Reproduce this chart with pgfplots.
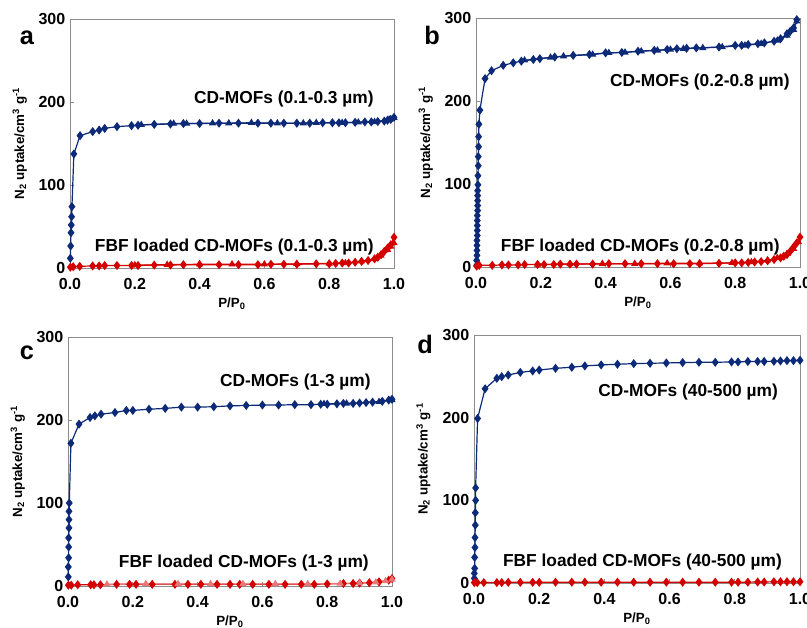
\documentclass[border=0pt]{standalone}
\usepackage{fontspec}
\setmainfont{Liberation Sans}
\usepackage{pgfplots}
\pgfplotsset{compat=1.18}
\definecolor{blu}{RGB}{12,42,120}
\definecolor{rd}{RGB}{212,0,0}
\definecolor{ltrd}{RGB}{232,120,120}

\pgfplotsset{
  panel/.style={
    scale only axis, width=243pt, height=186.75pt,
    xmin=0, xmax=1, ymin=0, ymax=300,
    xtick={0,0.2,0.4,0.6,0.8,1}, ytick={0,100,200,300},
    xtick pos=bottom, ytick pos=left,
    xticklabel style={yshift=-4.5pt, /pgf/number format/.cd, fixed, fixed zerofill, precision=1},
    tick label style={font=\fontsize{12}{14}\selectfont\bfseries},
    /pgf/number format/assume math mode=true,
    axis line style={gray!90},
    tick style={gray!90, line width=0.5pt},
    major tick length=3pt,
    clip=false,
    xlabel={P/P\textsubscript{0}},
    ylabel={N\textsubscript{2} uptake/cm\textsuperscript{3} g\textsuperscript{-1}},
    every axis x label/.style={at={(axis description cs:0.5,-0.142)}, anchor=center,
      font=\fontsize{10}{12}\selectfont\bfseries},
    every axis y label/.style={at={(axis description cs:-0.155,0.5)}, rotate=90, anchor=center,
      font=\fontsize{10}{12}\selectfont\bfseries},
  },
  ads/.style={line width=0.9pt, mark=diamond*, mark size=2.7pt},
  des/.style={line width=0.9pt, mark=triangle*, mark size=2.3pt},
}
\tikzset{note/.style={font=\fontsize{13}{15}\selectfont\bfseries, anchor=east, inner sep=0pt}}

\begin{document}
\begin{tikzpicture}
\useasboundingbox (0,0) rectangle (605.25pt,-471pt);

% a
\begin{axis}[panel, at={(52.5pt,-201pt)}, anchor=south west]
\addplot[ads, blu] coordinates {(0.001,11.7)(0.002,26.5)(0.003,42.5)(0.004,51.8)(0.005,61.8)(0.006,73.9)(0.012,137.4)(0.031,159.4)(0.07,164.3)(0.09,166.2)(0.107,168.2)(0.145,170.3)(0.19,171.5)(0.21,172)(0.26,173)(0.31,173.5)(0.35,174)(0.40,174)(0.46,174.5)(0.52,174.5)(0.58,174.5)(0.62,174.5)(0.66,174.5)(0.70,174.5)(0.74,174.5)(0.78,175)(0.81,175)(0.83,175)(0.85,175)(0.88,175.5)(0.91,176)(0.93,176)(0.95,176.5)(0.97,177)(0.98,178)(0.99,179)(1.0,181.5)};
\addplot[des, blu] coordinates {(1.0,181)(0.985,179)(0.94,176)(0.89,175.5)(0.84,175)(0.76,175)(0.72,174.5)(0.64,174.5)(0.56,175)(0.49,174.5)(0.44,174.5)(0.36,174)(0.32,174)(0.22,172.5)};
\addplot[ads, rd] coordinates {(0.001,1)(0.01,1.5)(0.03,2)(0.07,2.5)(0.09,2.5)(0.107,3)(0.145,3)(0.19,3)(0.21,3)(0.26,3.5)(0.31,3.5)(0.35,4)(0.40,4)(0.46,4)(0.52,4)(0.58,4)(0.62,4.5)(0.66,4.5)(0.70,4.5)(0.76,5)(0.80,5)(0.82,5.5)(0.84,6)(0.86,6)(0.88,7)(0.90,8)(0.92,9)(0.94,11)(0.95,13)(0.96,16)(0.97,20)(0.98,24)(0.99,28)(1.0,37)};
\addplot[des, rd] coordinates {(1.0,30)(0.99,26)(0.98,22)(0.96,15)(0.94,11)(0.90,8)(0.85,6)(0.80,5.5)(0.70,5)(0.60,4.5)(0.50,4.5)(0.40,4.5)(0.30,4)(0.20,3.5)};
\node[note] at (axis cs:0.938,203.6) {CD-MOFs (0.1-0.3 µm)};
\node[note] at (axis cs:0.938,25.3) {FBF loaded CD-MOFs (0.1-0.3 µm)};
\end{axis}

% b
\begin{axis}[panel, at={(357pt,-200.25pt)}, anchor=south west]
\addplot[ads, blu] coordinates {(0.002,2)(0.002,8)(0.003,14)(0.003,20)(0.003,26)(0.003,32)(0.004,38)(0.004,44)(0.004,50)(0.004,56)(0.004,62)(0.005,68)(0.005,74)(0.005,80)(0.005,86)(0.005,92)(0.006,99)(0.006,110)(0.007,122)(0.007,133)(0.008,145)(0.008,157)(0.009,172)(0.012,189)(0.028,227)(0.048,236.5)(0.084,243)(0.115,246)(0.14,248)(0.177,250)(0.197,251)(0.243,253)(0.30,255)(0.35,256)(0.40,258)(0.45,258.5)(0.50,260)(0.55,261)(0.59,262)(0.62,263)(0.65,263.5)(0.68,264)(0.75,265)(0.80,267)(0.82,267)(0.84,268)(0.87,269)(0.89,270)(0.92,272)(0.94,275)(0.96,281)(0.97,284)(0.98,288)(0.99,298)};
\addplot[des, blu] coordinates {(0.99,296)(0.98,286)(0.96,279)(0.93,273)(0.88,269)(0.83,267)(0.76,265)(0.70,264)(0.64,263)(0.60,262)(0.56,261)(0.51,260)(0.46,258.5)(0.41,258)(0.36,256)(0.27,254)(0.23,252.5)(0.15,249)};
\addplot[ads, rd] coordinates {(0.002,1)(0.01,2)(0.05,2)(0.08,2.5)(0.10,2.5)(0.13,2.5)(0.15,3)(0.19,3)(0.21,3)(0.24,3)(0.26,3.5)(0.29,3.5)(0.31,3.5)(0.36,3.5)(0.41,4)(0.46,4)(0.51,4)(0.56,4)(0.61,4)(0.66,4)(0.69,4)(0.75,4.5)(0.80,5)(0.82,5)(0.84,5.5)(0.86,6)(0.88,6.5)(0.90,7.5)(0.92,9)(0.94,11)(0.95,13)(0.96,15)(0.97,19)(0.98,24)(0.99,29)(1.0,36)};
\addplot[des, rd] coordinates {(0.995,30)(0.98,22)(0.96,16)(0.93,11)(0.90,8)(0.85,6)(0.79,5)(0.69,4.5)(0.59,4.5)(0.49,4)(0.39,4)(0.29,3.5)(0.19,3)};
\node[note] at (axis cs:0.969,222.9) {CD-MOFs (0.2-0.8 µm)};
\node[note] at (axis cs:0.938,24.1) {FBF loaded CD-MOFs (0.2-0.8 µm)};
\end{axis}

% c
\begin{axis}[panel, at={(51pt,-439.5pt)}, anchor=south west]
\addplot[ads, blu] coordinates {(0.001,11)(0.001,23)(0.002,34)(0.002,47)(0.002,58)(0.003,70)(0.003,80)(0.003,90)(0.004,100)(0.009,172)(0.034,195)(0.068,203)(0.083,205)(0.102,207)(0.145,209)(0.18,211.5)(0.2,211.5)(0.25,213)(0.30,214)(0.35,215.5)(0.40,215.5)(0.45,216)(0.50,217)(0.55,217.5)(0.60,218)(0.65,218)(0.70,218.5)(0.75,218.5)(0.78,219)(0.80,219)(0.83,219.5)(0.85,220)(0.88,220)(0.90,220.5)(0.92,221)(0.94,221.5)(0.97,222.5)(0.99,224)(1.0,225)};
\addplot[des, blu] coordinates {(1.0,224)(0.96,222)(0.86,220)(0.79,219.5)};
\addplot[ads, rd] coordinates {(0.001,1)(0.01,1)(0.03,1.5)(0.07,1.5)(0.08,1.5)(0.10,1.5)(0.15,2)(0.19,2)(0.21,2)(0.26,2)(0.33,2)(0.37,2)(0.41,2)(0.46,2)(0.50,2)(0.53,2)(0.57,2)(0.62,2)(0.67,2)(0.72,2)(0.76,2)(0.80,2.5)(0.85,3)(0.88,3)(0.90,3.5)(0.93,4)(0.96,5)(0.99,7)(1.0,9)};
\addplot[des, ltrd] coordinates {(1.0,8)(0.98,6)(0.95,4.5)(0.90,3.5)(0.84,3)(0.74,2.5)(0.64,2.5)(0.54,2.5)(0.44,2.5)(0.34,2.5)(0.24,2.5)(0.12,2)};
\node[note] at (axis cs:0.935,245.8) {CD-MOFs (1-3 µm)};
\node[note] at (axis cs:0.929,27.7) {FBF loaded CD-MOFs (1-3 µm)};
\end{axis}

% d
\begin{axis}[panel, at={(355.5pt,-437.25pt)}, anchor=south west, height=186pt, width=244.5pt]
\addplot[ads, blu] coordinates {(0.001,5.6)(0.001,11.7)(0.002,17.7)(0.002,31)(0.003,43)(0.003,55)(0.004,70)(0.004,85)(0.005,100)(0.005,115)(0.011,199)(0.034,235)(0.07,247.6)(0.085,249.6)(0.105,251.6)(0.142,254.8)(0.18,256.5)(0.2,257.7)(0.25,259.7)(0.30,261)(0.34,262.6)(0.39,263.8)(0.44,264.6)(0.49,265.4)(0.54,265.8)(0.59,266.2)(0.64,266.6)(0.69,267)(0.74,267)(0.79,267.4)(0.81,267.4)(0.84,268)(0.87,268)(0.89,268)(0.92,268.2)(0.94,268.6)(0.96,269)(0.98,269)(1.0,269.4)};
\addplot[ads, rd] coordinates {(0.001,0.5)(0.01,0.5)(0.03,0.5)(0.07,0.5)(0.085,0.5)(0.105,0.8)(0.142,0.8)(0.18,0.8)(0.2,0.8)(0.25,1)(0.30,1)(0.34,1)(0.39,1)(0.44,1)(0.49,1)(0.54,1)(0.59,1)(0.64,1)(0.69,1)(0.74,1)(0.79,1)(0.81,1)(0.84,1)(0.87,1.2)(0.89,1.2)(0.92,1.5)(0.94,1.5)(0.96,1.5)(0.98,1.5)(1.0,1.5)};
\node[note] at (axis cs:0.933,231) {CD-MOFs (40-500 µm)};
\node[note] at (axis cs:0.945,25.4) {FBF loaded CD-MOFs (40-500 µm)};
\end{axis}

\node[font=\fontsize{19}{20}\selectfont\bfseries] at (20.25pt,-28.5pt) {a};
\node[font=\fontsize{19}{20}\selectfont\bfseries] at (324pt,-26.25pt) {b};
\node[font=\fontsize{19}{20}\selectfont\bfseries] at (20.25pt,-264.75pt) {c};
\node[font=\fontsize{19}{20}\selectfont\bfseries] at (318.75pt,-258pt) {d};
\end{tikzpicture}
\end{document}
